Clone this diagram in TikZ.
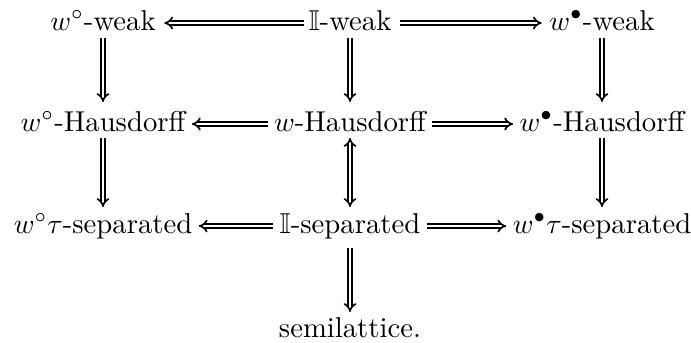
\documentclass[tikz,border=0pt]{standalone}
\usepackage{amssymb}
\usetikzlibrary{arrows.meta,calc}
\begin{document}
\begin{tikzpicture}[x=0.3571pt,y=-0.3571pt,
  lbl/.style={anchor=base,inner sep=0pt,font=\fontsize{10.25pt}{12pt}\selectfont},
  imp/.style={double,double distance=0.9pt,line width=0.6pt,-{Implies}},
  impb/.style={double,double distance=0.9pt,line width=0.6pt,{Implies}-{Implies}}]
\useasboundingbox (0,0) rectangle (691,343);
% row 1
\node[lbl] (wow) at (103,30) {$w^\circ$-weak};
\node[lbl] (Iw)  at (350,30) {$\mathbb{I}$-weak};
\node[lbl] (wbw) at (602,30) {$w^\bullet$-weak};
% row 2
\node[lbl] (woh) at (103,131) {$w^\circ$-Hausdorff};
\node[lbl] (wh)  at (350,131) {$w$-Hausdorff};
\node[lbl] (wbh) at (602,131) {$w^\bullet$-Hausdorff};
% row 3
\node[lbl] (wot) at (103,233) {$w^\circ\tau$-separated};
\node[lbl] (Is)  at (350,233) {$\mathbb{I}$-separated};
\node[lbl] (wbt) at (602,233) {$w^\bullet\tau$-separated};
% row 4
\node[lbl] (sl)  at (350,337) {semilattice.};
% horizontal arrows
\draw[imp] ($(Iw.base west)+(-4,-7)$) -- ($(wow.base east)+(8,-7)$);
\draw[imp] ($(Iw.base east)+(8,-7)$) -- ($(wbw.base west)+(-7,-7)$);
\draw[imp] ($(wh.base west)+(-6,-7)$) -- ($(woh.base east)+(6,-7)$);
\draw[imp] ($(wh.base east)+(6,-7)$) -- ($(wbh.base west)+(-6,-7)$);
\draw[imp] ($(Is.base west)+(-6,-7)$) -- ($(wot.base east)+(6,-7)$);
\draw[imp] ($(Is.base east)+(6,-7)$) -- ($(wbt.base west)+(-6,-7)$);
% vertical arrows
\draw[imp] ($(wow.base)+(0,8)$) -- ($(woh.base)+(0,-29)$);
\draw[imp] ($(woh.base)+(0,7)$) -- ($(wot.base)+(0,-26)$);
\draw[imp] ($(Iw.base)+(0,8)$) -- ($(wh.base)+(0,-29)$);
\draw[impb] ($(wh.base)+(0,7)$) -- ($(Is.base)+(0,-26)$);
\draw[imp] ($(Is.base)+(0,15)$) -- ($(sl.base)+(0,-25)$);
\draw[imp] ($(wbw.base)+(0,8)$) -- ($(wbh.base)+(0,-29)$);
\draw[imp] ($(wbh.base)+(0,7)$) -- ($(wbt.base)+(0,-26)$);
\end{tikzpicture}
\end{document}
